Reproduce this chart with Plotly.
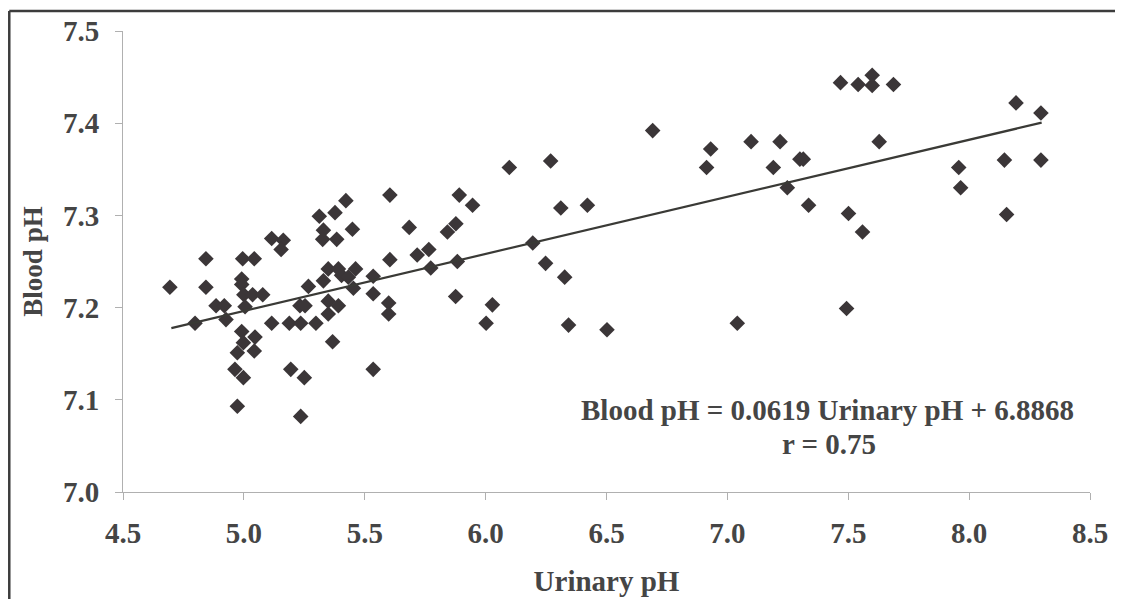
import plotly.graph_objects as go

urinary_ph = [
    4.694, 4.843, 4.843, 4.798, 4.885, 4.919, 4.926, 4.995, 5.043, 4.991,
    4.991, 5.000, 5.036, 5.078, 5.005, 4.991, 4.998, 5.046, 5.043, 4.973,
    4.963, 4.998, 4.973, 5.115, 5.188, 5.235, 5.298, 5.194, 5.250, 5.235,
    5.115, 5.163, 5.154, 5.232, 5.253, 5.267, 5.329, 5.349, 5.391, 5.404,
    5.432, 5.462, 5.453, 5.535, 5.535, 5.349, 5.391, 5.349, 5.367, 5.535,
    5.312, 5.377, 5.422, 5.329, 5.326, 5.384, 5.449,
    5.604, 5.891, 5.946, 6.098, 6.269, 6.311, 6.421, 5.684, 5.877, 5.842,
    5.604, 5.717, 5.765, 5.773, 5.883, 6.195, 5.599, 5.599, 5.876, 6.028,
    6.002, 6.248, 6.327, 6.343, 6.502,
    6.691, 6.931, 6.914, 7.098, 7.218, 7.190, 7.300, 7.314, 7.248, 7.336,
    7.501, 7.559, 7.468, 7.541, 7.599, 7.599, 7.628, 7.493, 7.041,
    7.687, 8.194, 8.297, 8.146, 8.297, 7.957, 7.965, 8.155,
]
blood_ph = [
    7.222, 7.253, 7.222, 7.183, 7.202, 7.202, 7.187, 7.253, 7.253, 7.231,
    7.225, 7.214, 7.214, 7.214, 7.201, 7.174, 7.162, 7.168, 7.153, 7.151,
    7.133, 7.124, 7.093, 7.183, 7.183, 7.183, 7.183, 7.133, 7.124, 7.082,
    7.275, 7.273, 7.263, 7.202, 7.202, 7.223, 7.229, 7.242, 7.242, 7.235,
    7.233, 7.242, 7.221, 7.234, 7.215, 7.207, 7.202, 7.193, 7.163, 7.133,
    7.299, 7.303, 7.316, 7.284, 7.274, 7.274, 7.285,
    7.322, 7.322, 7.311, 7.352, 7.359, 7.308, 7.311, 7.287, 7.291, 7.282,
    7.252, 7.257, 7.263, 7.243, 7.250, 7.270, 7.205, 7.193, 7.212, 7.203,
    7.183, 7.248, 7.233, 7.181, 7.176,
    7.392, 7.372, 7.352, 7.380, 7.380, 7.352, 7.361, 7.361, 7.330, 7.311,
    7.302, 7.282, 7.444, 7.442, 7.452, 7.441, 7.380, 7.199, 7.183,
    7.442, 7.422, 7.411, 7.360, 7.360, 7.352, 7.330, 7.301,
]

slope = 0.0619
intercept = 6.8868
fit_x = [4.7, 8.3]
fit_y = [slope * v + intercept for v in fit_x]

x_ticks = [4.5, 5.0, 5.5, 6.0, 6.5, 7.0, 7.5, 8.0, 8.5]
y_ticks = [7.0, 7.1, 7.2, 7.3, 7.4, 7.5]

font_family = "Liberation Serif"
text_color = "#454545"
fs = 29

fig = go.Figure()
fig.add_trace(go.Scatter(
    x=urinary_ph, y=blood_ph, mode="markers",
    marker=dict(symbol="diamond", size=12, color="#3b3638", line=dict(width=0)),
    showlegend=False, hoverinfo="x+y",
))
fig.add_trace(go.Scatter(
    x=fit_x, y=fit_y, mode="lines",
    line=dict(color="#3a3a36", width=2.2),
    showlegend=False, hoverinfo="skip",
))

# page body has an 8px margin; figure is sized/offset to compensate
fig.update_layout(
    width=1115, height=591,
    margin=dict(l=115, r=33, t=23, b=107, autoexpand=False),
    paper_bgcolor="white", plot_bgcolor="white",
    font=dict(family=font_family, color=text_color, size=fs, weight="bold"),
    xaxis=dict(
        range=[4.5, 8.5], tickvals=x_ticks,
        ticktext=[f"{v:.1f}" for v in x_ticks],
        showgrid=False, zeroline=False, automargin=False,
        showline=True, linecolor="#b0b0b0", linewidth=1,
        ticks="outside", ticklen=7, tickcolor="#b0b0b0", tickwidth=1,
        ticklabelstandoff=8,
        tickfont=dict(family=font_family, size=fs, color=text_color, weight="bold"),
        title=dict(text="Urinary pH", standoff=22,
                   font=dict(family=font_family, size=fs, color=text_color, weight="bold")),
    ),
    yaxis=dict(
        range=[7.0, 7.5], tickvals=y_ticks,
        ticktext=[f"{v:.1f}" for v in y_ticks],
        showgrid=False, zeroline=False, automargin=False,
        showline=True, linecolor="#b0b0b0", linewidth=1,
        ticks="outside", ticklen=7, tickcolor="#b0b0b0", tickwidth=1,
        ticklabelstandoff=10,
        tickfont=dict(family=font_family, size=fs, color=text_color, weight="bold"),
        title=dict(text="Blood pH", standoff=12,
                   font=dict(family=font_family, size=27, color=text_color, weight="bold")),
    ),
    annotations=[
        dict(xref="x", yref="y", x=7.416, y=7.089, showarrow=False,
             text="Blood pH = 0.0619 Urinary pH + 6.8868",
             font=dict(family=font_family, size=fs, color=text_color, weight="bold")),
        dict(xref="x", yref="y", x=7.420, y=7.052, showarrow=False,
             text="r = 0.75",
             font=dict(family=font_family, size=fs, color=text_color, weight="bold")),
    ],
    shapes=[
        dict(type="line", xref="paper", yref="paper",
             x0=-0.1176, x1=1.06, y0=1.0434, y1=1.0434,
             line=dict(color="#3c3c3c", width=2.5)),
        dict(type="line", xref="paper", yref="paper",
             x0=-0.1176, x1=-0.1176, y0=1.0434, y1=-0.25,
             line=dict(color="#3c3c3c", width=2.5)),
    ],
)

fig.write_html("out.html")
